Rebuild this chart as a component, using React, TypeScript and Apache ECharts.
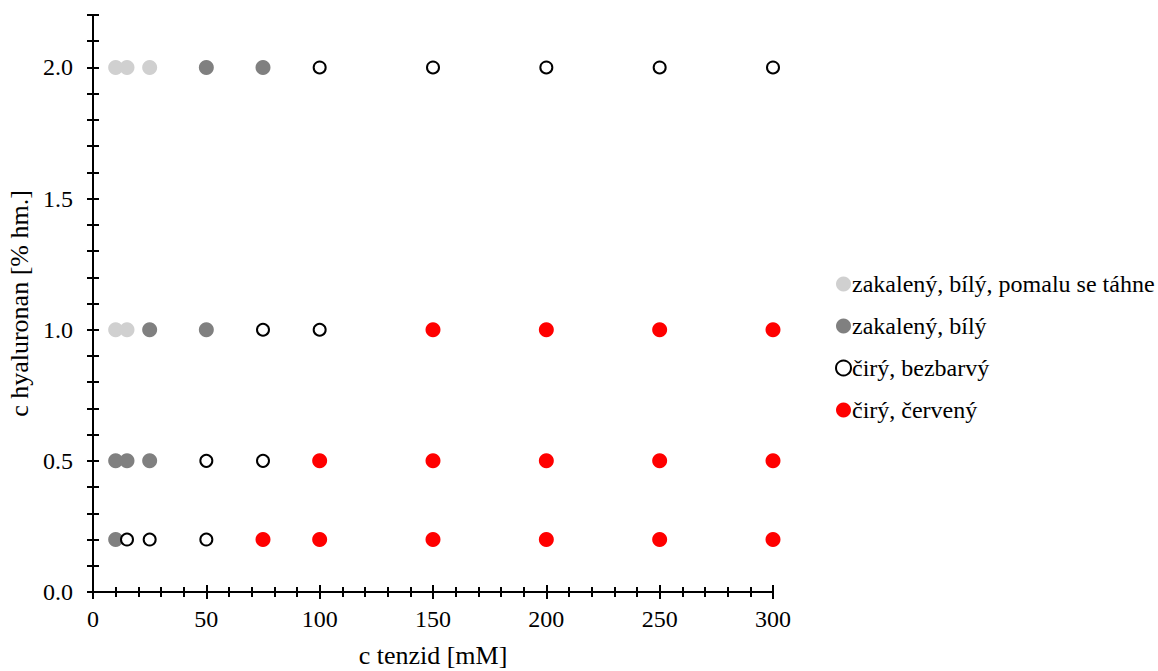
import React, { useEffect, useRef } from "react";
import * as echarts from "echarts";

const seriesNames = [
  "zakalený, bílý, pomalu se táhne",
  "zakalený, bílý",
  "čirý, bezbarvý",
  "čirý, červený",
];

// [c tenzid (mM), c hyaluronan (% hm.)]
const lightGrayPoints: [number, number][] = [
  [10, 2.0], [15, 2.0], [25, 2.0],
  [10, 1.0], [15, 1.0],
];
const darkGrayPoints: [number, number][] = [
  [50, 2.0], [75, 2.0],
  [25, 1.0], [50, 1.0],
  [10, 0.5], [15, 0.5], [25, 0.5],
  [10, 0.2],
];
const clearPoints: [number, number][] = [
  [100, 2.0], [150, 2.0], [200, 2.0], [250, 2.0], [300, 2.0],
  [75, 1.0], [100, 1.0],
  [50, 0.5], [75, 0.5],
  [15, 0.2], [25, 0.2], [50, 0.2],
];
const redPoints: [number, number][] = [
  [150, 1.0], [200, 1.0], [250, 1.0], [300, 1.0],
  [100, 0.5], [150, 0.5], [200, 0.5], [250, 0.5], [300, 0.5],
  [75, 0.2], [100, 0.2], [150, 0.2], [200, 0.2], [250, 0.2], [300, 0.2],
];

const FONT = "Liberation Serif";
const FS = 24;
const FS_TITLE = 26;

export default function App() {
  const ref = useRef<HTMLDivElement>(null);
  useEffect(() => {
    document.body.style.margin = "0";
    if (!ref.current) return;
    const chart = echarts.init(ref.current, undefined, { renderer: "svg" });
    const lineStyle = { color: "#000", width: 2 };
    const xBase = {
      type: "value",
      min: 0,
      max: 300,
      interval: 50,
      position: "bottom",
      axisLine: { show: true, onZero: false, lineStyle },
      splitLine: { show: false },
    };
    const yBase = {
      type: "value",
      min: 0,
      max: 2.2,
      interval: 0.1,
      position: "left",
      axisLine: { show: true, onZero: false, lineStyle },
      splitLine: { show: false },
    };
    const option: any = {
      animation: false,
      backgroundColor: "#fff",
      textStyle: { fontFamily: FONT, color: "#000" },
      grid: {
        left: 93,
        right: 385,
        top: 15,
        bottom: 79,
        containLabel: false,
        outerBoundsMode: "none",
      },
      legend: {
        orient: "vertical",
        left: 830,
        top: 267,
        itemWidth: 15,
        itemHeight: 15,
        itemGap: 18,
        icon: "circle",
        data: seriesNames,
        textStyle: { fontFamily: FONT, fontSize: FS, color: "#000", padding: [0, 0, 0, -4] },
      },
      xAxis: [
        {
          ...xBase,
          name: "c tenzid [mM]",
          nameLocation: "middle",
          nameGap: 50,
          nameTextStyle: { fontFamily: FONT, fontSize: FS_TITLE, color: "#000" },
          axisTick: { show: true, inside: false, length: 7, lineStyle },
          minorTick: { show: true, splitNumber: 5, length: 5, lineStyle },
          axisLabel: { show: true, margin: 15, fontFamily: FONT, fontSize: FS, color: "#000" },
        },
        {
          ...xBase,
          axisTick: { show: true, inside: true, length: 7, lineStyle },
          minorTick: { show: true, splitNumber: 5, length: 5, lineStyle },
          axisLabel: { show: false },
        },
      ],
      yAxis: [
        {
          ...yBase,
          name: "c hyaluronan [% hm.]",
          nameLocation: "middle",
          nameGap: 60,
          nameTextStyle: { fontFamily: FONT, fontSize: FS_TITLE, color: "#000" },
          axisTick: { show: true, inside: false, length: 6, lineStyle },
          axisLabel: {
            show: true,
            margin: 20,
            fontFamily: FONT,
            fontSize: FS,
            color: "#000",
            formatter: (v: number) => {
              const r = Math.round(v * 10);
              return r % 5 === 0 && r <= 20 ? v.toFixed(1) : "";
            },
          },
        },
        {
          ...yBase,
          axisTick: { show: true, inside: true, length: 6, lineStyle },
          axisLabel: { show: false },
        },
      ],
      series: [
        {
          name: seriesNames[0],
          type: "scatter",
          symbol: "circle",
          symbolSize: 15,
          itemStyle: { color: "#d0d0d0", opacity: 1 },
          data: lightGrayPoints,
        },
        {
          name: seriesNames[1],
          type: "scatter",
          symbol: "circle",
          symbolSize: 15,
          itemStyle: { color: "#808080", opacity: 1 },
          data: darkGrayPoints,
        },
        {
          name: seriesNames[2],
          type: "scatter",
          symbol: "circle",
          symbolSize: 12,
          itemStyle: { color: "#fff", borderColor: "#000", borderWidth: 2, opacity: 1 },
          data: clearPoints,
        },
        {
          name: seriesNames[3],
          type: "scatter",
          symbol: "circle",
          symbolSize: 15,
          itemStyle: { color: "#ff0000", opacity: 1 },
          data: redPoints,
        },
      ],
    };
    chart.setOption(option);
    return () => chart.dispose();
  }, []);
  return <div ref={ref} style={{ width: 1158, height: 671 }} />;
}
